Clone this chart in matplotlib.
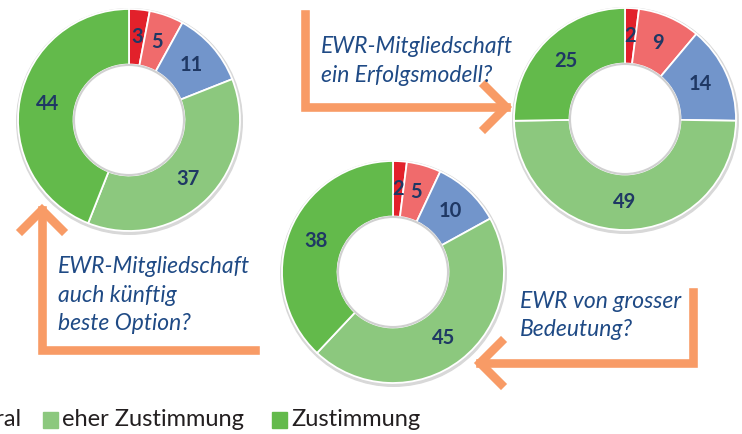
import matplotlib.pyplot as plt
from matplotlib.patches import Circle, Rectangle

plt.rcParams['font.family'] = ['Lato', 'DejaVu Sans']

# Kategorien (von Ablehnung bis Zustimmung)
categories = ['Ablehnung', 'eher Ablehnung', 'neutral', 'eher Zustimmung', 'Zustimmung']
colors = ['#E2212B', '#F06B6C', '#7295CB', '#8CC87E', '#63BA4B']

# Werte in Prozent
vals_kuenftig = [3, 5, 11, 37, 44]      # auch künftig beste Option?
vals_erfolg = [2, 9, 14, 49, 25]        # ein Erfolgsmodell?
vals_bedeutung = [2, 5, 10, 45, 38]     # von grosser Bedeutung?

questions = ['EWR-Mitgliedschaft\nauch künftig\nbeste Option?',
             'EWR-Mitgliedschaft\nein Erfolgsmodell?',
             'EWR von grosser\nBedeutung?']

W, H = 742, 434
label_col = '#1F3864'
text_col = '#1F4A85'
arrow_col = '#F89B66'


def Y(y):
    return H - y


fig = plt.figure(figsize=(W / 100, H / 100), dpi=100)
ax = fig.add_axes([0, 0, 1, 1])
ax.set_xlim(0, W)
ax.set_ylim(0, H)
ax.set_aspect('equal')
ax.axis('off')

R = 111


def donut(vals, cx, cy):
    total = sum(vals)
    # leichter Schatten um den Ring
    ax.add_patch(Circle((cx + 0.5, Y(cy) - 1.5), R + 1.8, color='#d8d8d8', zorder=1))
    wedges, _, autotexts = ax.pie(
        vals, colors=colors, startangle=90, counterclock=False,
        center=(cx, Y(cy)), radius=R,
        autopct=lambda p: f'{p * total / 100:.0f}', pctdistance=0.75,
        wedgeprops=dict(width=R * 0.5, edgecolor='white', linewidth=1.3),
        textprops=dict(color=label_col, fontsize=14.5, fontweight='bold'))
    for w in wedges:
        w.set_zorder(2)
    for t in autotexts:
        t.set_zorder(3)
    # Loch in der Mitte
    ax.add_patch(Circle((cx, Y(cy)), R * 0.5 - 0.5, facecolor='white',
                        edgecolor='#d0d0d0', linewidth=1.5, zorder=2.5))


donut(vals_kuenftig, 129, 120)
donut(vals_erfolg, 625, 119)
donut(vals_bedeutung, 393, 272)

ax.set_xlim(0, W)
ax.set_ylim(0, H)

lw = 6.2
kw = dict(color=arrow_col, linewidth=lw, solid_joinstyle='miter', zorder=4)

# Pfeil oben: nach rechts zum Erfolgsmodell
ax.plot([305, 305, 506], [Y(14), Y(107), Y(107)], **kw)
ax.plot([485, 506, 485], [Y(86), Y(107), Y(128)], **kw)

# Pfeil rechts unten: nach links zur Bedeutung
ax.plot([693, 693, 480], [Y(292), Y(363), Y(363)], **kw)
ax.plot([501, 480, 501], [Y(342), Y(363), Y(384)], **kw)

# Pfeil links: nach oben zur künftigen Option
ax.plot([255, 42, 42], [Y(350), Y(350), Y(210)], **kw)
ax.plot([22, 42, 62], [Y(230), Y(210), Y(230)], **kw)

# Fragen, Zeile für Zeile (x, Grundlinie der ersten Zeile)
q_pos = [(58, 273), (321, 53), (520, 308)]
line_step = 28.5
for q, (x, y0) in zip(questions, q_pos):
    for i, line in enumerate(q.split('\n')):
        ax.text(x, Y(y0 + i * line_step), line, color=text_col, fontsize=16.5,
                style='italic', va='baseline', ha='left', zorder=5)

# Legende (links abgeschnitten wie im Original)
leg_y = 420
leg_col = '#231F20'
ax.text(21, Y(leg_y), categories[2], fontsize=17, color=leg_col, ha='right', va='center')
items = [(43, categories[3], colors[3]), (272, categories[4], colors[4])]
for x, lab, c in items:
    ax.add_patch(Rectangle((x, Y(leg_y) - 8), 15, 16, color=c, zorder=5))
    ax.text(x + 19, Y(leg_y), lab, fontsize=17, color=leg_col, ha='left', va='center')

fig.savefig('out.png', dpi=100)
